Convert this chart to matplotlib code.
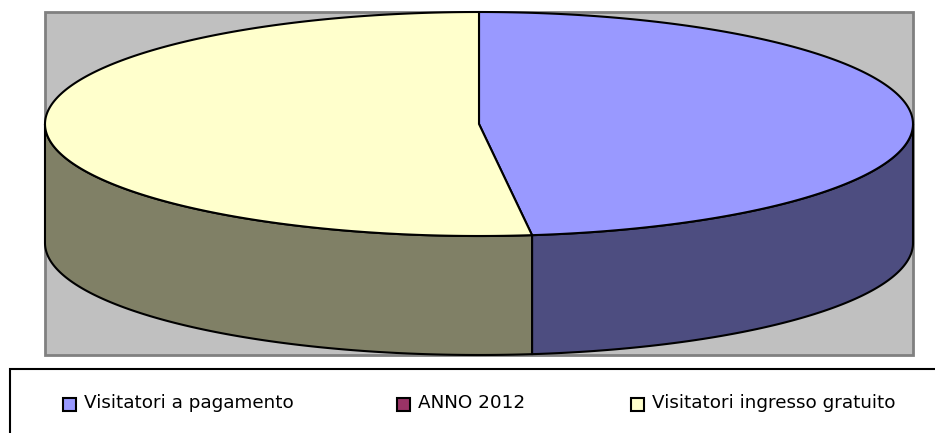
from matplotlib import pyplot as plt
from matplotlib.patches import Rectangle
import numpy as np

# Values (share of visitors, %)
labels = ['Visitatori a pagamento', 'ANNO 2012', 'Visitatori ingresso gratuito']
values = [48.05, 0, 51.95]
top_colors = ['#9999FF', '#993366', '#FFFFCC']
side_colors = ['#4D4D80', '#4D1A33', '#808066']

# Layout in image pixels
cx, cy, rx, ry, depth = 479, 124, 434, 112, 119
legend_x = [62, 396, 630]

fig = plt.figure(figsize=(9.35, 4.33), dpi=100)
ax = fig.add_axes([0, 0, 1, 1])
ax.set_xlim(0, 935)
ax.set_ylim(433, 0)
ax.axis('off')


def ellipse_points(t1, t2, dy=0):
    # angles are clockwise from the top of the pie
    t = np.radians(np.linspace(t1, t2, 200))
    return cx + rx * np.sin(t), cy + dy - ry * np.cos(t)


# Plot area
ax.add_patch(Rectangle((45, 12), 868, 343, facecolor='#C0C0C0', edgecolor='#808080', linewidth=2))

# Pie: side walls first, then the top faces
start = 0
for value, top, side in zip(values, top_colors, side_colors):
    if value == 0:
        continue
    end = start + 360 * value / sum(values)
    a, b = max(start, 90), min(end, 270)
    if a < b:
        x1, y1 = ellipse_points(a, b)
        x2, y2 = ellipse_points(b, a, depth)
        ax.fill(np.r_[x1, x2], np.r_[y1, y2], facecolor=side, edgecolor='black', linewidth=1.5, joinstyle='round')
    x, y = ellipse_points(start, end)
    ax.fill(np.r_[cx, x], np.r_[cy, y], facecolor=top, edgecolor='black', linewidth=1.5, joinstyle='round')
    start = end

# Legend
ax.add_patch(Rectangle((9.5, 369), 940, 80, facecolor='white', edgecolor='black', linewidth=1.5))
for x, label, color in zip(legend_x, labels, top_colors):
    ax.add_patch(Rectangle((x + 1, 398), 13, 13, facecolor=color, edgecolor='black', linewidth=1.5))
    ax.text(x + 22, 403.5, label, fontsize=13.2, family='DejaVu Sans', color='black', va='center', ha='left')

fig.savefig('out.png', dpi=100)
